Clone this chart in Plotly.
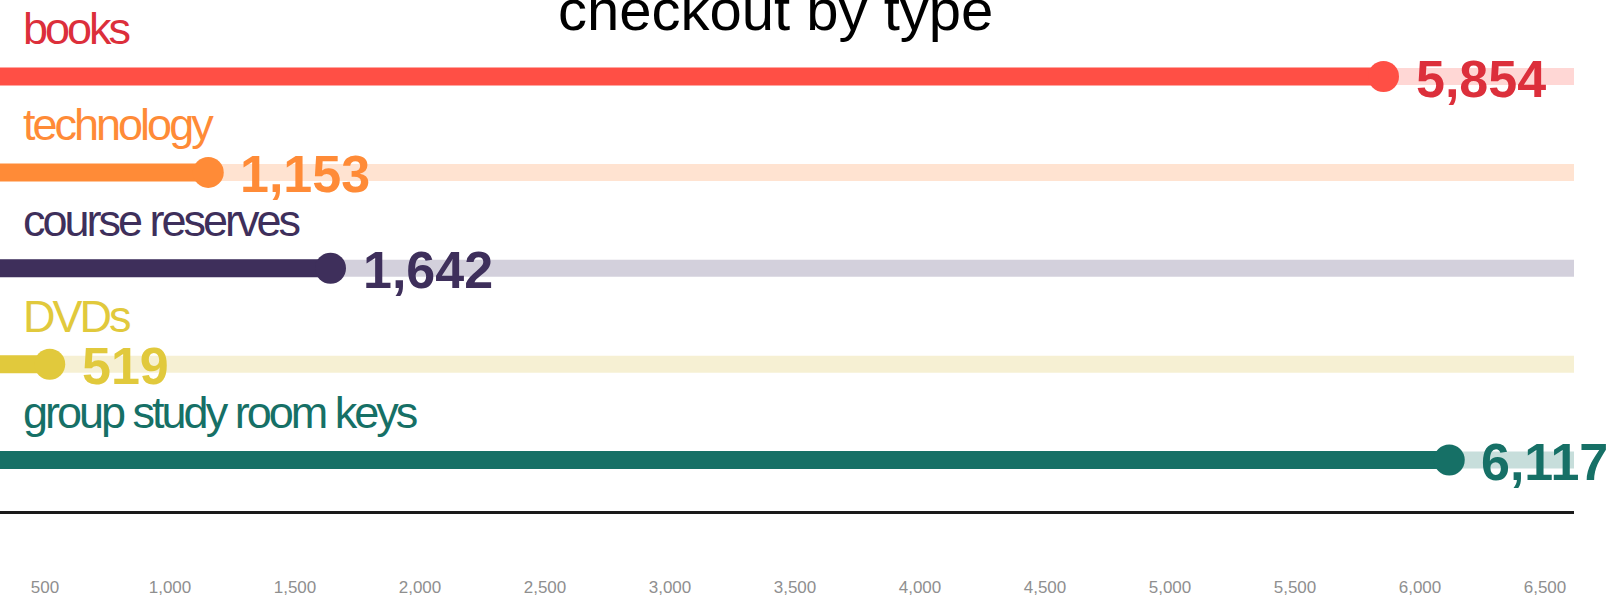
import plotly.graph_objects as go

# ---- data ----
CATEGORIES = ["books", "technology", "course reserves", "DVDs", "group study room keys"]
VALUES = [5854, 1153, 1642, 519, 6117]
TICK_VALUES = [500, 1000, 1500, 2000, 2500, 3000, 3500, 4000, 4500, 5000, 5500, 6000, 6500]
TICK_LABELS = ["500", "1,000", "1,500", "2,000", "2,500", "3,000", "3,500",
               "4,000", "4,500", "5,000", "5,500", "6,000", "6,500"]
TITLE = "checkout by type"

# ---- styles ----
BAR_COLORS = ["#FF4F45", "#FF8B37", "#3E2F5B", "#E1C93C", "#167066"]
TRACK_COLORS = ["#FFD7D5", "#FFE3D1", "#D3D0DC", "#F6F0D3", "#C7DEDB"]
TEXT_COLORS = ["#DC2F3B", "#FF8B37", "#3E2F5B", "#E1C93C", "#167066"]
AXIS_MIN, AXIS_MAX = 320, 6616
FONT = "Liberation Sans, Arial, sans-serif"

fig = go.Figure()
for i, (cat, val) in enumerate(zip(CATEGORIES, VALUES)):
    fig.add_trace(go.Scatter(x=[AXIS_MIN, AXIS_MAX], y=[i, i], mode="lines",
                             line=dict(color=TRACK_COLORS[i], width=17),
                             hoverinfo="skip", showlegend=False))
    fig.add_trace(go.Scatter(x=[AXIS_MIN, val], y=[i, i], mode="lines",
                             line=dict(color=BAR_COLORS[i], width=18),
                             hoverinfo="skip", showlegend=False))
    fig.add_trace(go.Scatter(x=[val], y=[i], mode="markers",
                             marker=dict(color=BAR_COLORS[i], size=31, line=dict(width=0)),
                             name=cat, showlegend=False))
    fig.add_annotation(x=AXIS_MIN, y=i, xref="x", yref="y", xanchor="left", yanchor="middle",
                       xshift=21, yshift=48, showarrow=False,
                       text=f'<span style="letter-spacing:-3px">{cat}</span>',
                       font=dict(family=FONT, size=45, color=TEXT_COLORS[i]))
    fig.add_annotation(x=val, y=i, xref="x", yref="y", xanchor="left", yanchor="middle",
                       xshift=30, yshift=-2, showarrow=False,
                       text=f"<b>{val:,}</b>",
                       font=dict(family=FONT, size=52, color=TEXT_COLORS[i]))

fig.add_annotation(x=0.4924, y=1, xref="paper", yref="paper", xanchor="center", yanchor="middle",
                   yshift=-9, showarrow=False, text=TITLE,
                   font=dict(family=FONT, size=58, color="#000000"))

fig.update_layout(
    width=1615, height=597,
    margin=dict(l=0, r=41, t=0, b=74, pad=0),
    paper_bgcolor="white", plot_bgcolor="white",
    xaxis=dict(range=[AXIS_MIN, AXIS_MAX], tickvals=TICK_VALUES, ticktext=TICK_LABELS,
               showgrid=False, zeroline=False, showline=True, linecolor="#1a1a1a", linewidth=3,
               ticks="", ticklabelstandoff=59,
               tickfont=dict(family=FONT, size=17, color="#8f8f8f")),
    yaxis=dict(range=[4.531, -0.798], showgrid=False, zeroline=False, showticklabels=False,
               showline=False, ticks=""),
)

fig.write_html("out.html", config={"displayModeBar": False},
               post_script="document.body.style.margin='0';document.body.style.overflow='hidden';")
